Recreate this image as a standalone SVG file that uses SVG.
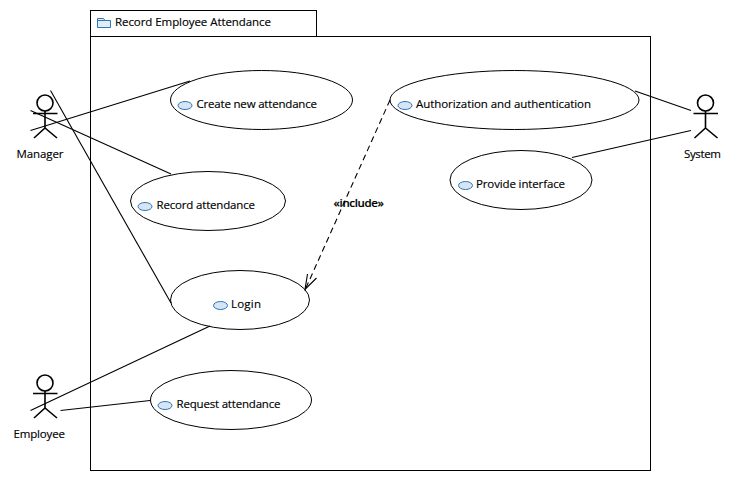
<svg xmlns="http://www.w3.org/2000/svg" width="751" height="481" viewBox="0 0 751 481">
<style>
text{font-family:"Open Sans","Noto Sans",sans-serif;font-size:11.5px;fill:#000;stroke:#000;stroke-width:.15}
.uc{fill:#fff;stroke:#000;stroke-width:1}
.ic{fill:#d6e4f3;stroke:#2f78b7;stroke-width:1}
.ln{fill:none;stroke:#000;stroke-width:1.1}
.ac{fill:none;stroke:#000;stroke-width:1.6}
</style>
<defs>
<g id="actor"><circle class="ac" cx="0" cy="0" r="8"/><path class="ac" d="M-12 10.5H12.5M0 8V25M-11 35L0 25L12 35"/></g>
</defs>
<rect width="751" height="481" fill="#fff"/>
<g id="package">
<rect x="90.5" y="36.5" width="560" height="434" fill="#fff" stroke="#000"/>
<rect x="90.5" y="10.5" width="226" height="26" fill="#fff" stroke="#000"/>
<path d="M97.500 27.500V18.500H103.500L105 20.500H110.500V27.500Z" fill="#e1ecf7" stroke="#2f78b7"/>
<path d="M97.500 20.500H105" stroke="#2f78b7" fill="none"/>
<text x="115" y="26" textLength="156">Record Employee Attendance</text>
</g>
<g id="uc-create"><ellipse class="uc" cx="261.500" cy="100" rx="91" ry="29.500"/><ellipse class="ic" cx="185" cy="105.500" rx="7" ry="4"/><text x="196.500" y="108" textLength="120.500">Create new attendance</text></g>
<g id="uc-record"><ellipse class="uc" cx="208" cy="201" rx="77.500" ry="29.500"/><ellipse class="ic" cx="145" cy="206.500" rx="7" ry="4"/><text x="156.500" y="209" textLength="98.500">Record attendance</text></g>
<g id="uc-login"><ellipse class="uc" cx="240" cy="300" rx="69.500" ry="29.500"/><ellipse class="ic" cx="220.500" cy="305.500" rx="7" ry="4"/><text x="231" y="308" textLength="30">Login</text></g>
<g id="uc-request"><ellipse class="uc" cx="231" cy="400" rx="80.500" ry="29.500"/><ellipse class="ic" cx="165" cy="405.500" rx="7" ry="4"/><text x="176.500" y="408" textLength="104">Request attendance</text></g>
<g id="uc-auth"><ellipse class="uc" cx="514.500" cy="100" rx="124.500" ry="29.500"/><ellipse class="ic" cx="405" cy="105.500" rx="7" ry="4"/><text x="416" y="108" textLength="175">Authorization and authentication</text></g>
<g id="uc-provide"><ellipse class="uc" cx="521" cy="180" rx="71" ry="29.500"/><ellipse class="ic" cx="465.500" cy="185.500" rx="7" ry="4"/><text x="476" y="188" textLength="89">Provide interface</text></g>
<g id="connectors">
<path class="ln" d="M30.500 130.500L190 81"/>
<path class="ln" d="M30.500 110.500L171 174"/>
<path class="ln" d="M50.500 90.500L171 303"/>
<path class="ln" d="M30.500 410.500L210 326"/>
<path class="ln" d="M60.500 410.500L150 400.500"/>
<path class="ln" d="M635 91L691 110.500"/>
<path class="ln" d="M572 157.500L691 130.500"/>
<path class="ln" d="M390 100L305.500 289" stroke-dasharray="6 4"/>
<path class="ln" d="M307.500 274L305 289.500L316.500 278"/>
<text x="333.500" y="207" textLength="50.500" font-weight="600">«include»</text>
</g>
<g id="actor-manager"><use href="#actor" x="45" y="103"/><text x="16.500" y="158" textLength="47">Manager</text></g>
<g id="actor-employee"><use href="#actor" x="45" y="383"/><text x="13.500" y="438" textLength="51.500">Employee</text></g>
<g id="actor-system"><use href="#actor" x="705.500" y="103"/><text x="684" y="158" textLength="37">System</text></g>
</svg>
